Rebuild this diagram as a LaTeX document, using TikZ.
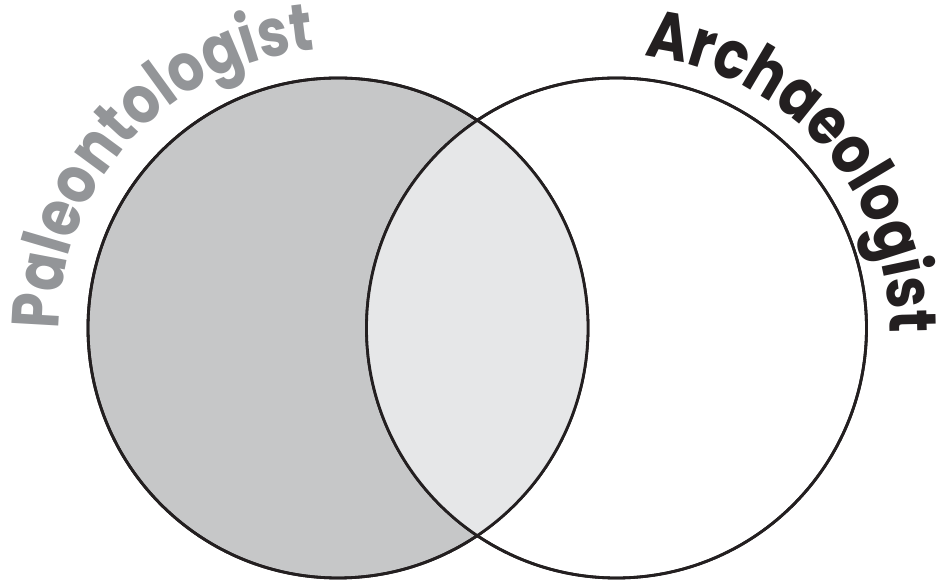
\documentclass[tikz,border=0pt]{standalone}
\usepackage{fontspec}
\usetikzlibrary{decorations.text}
\newfontfamily\vennfont{Poppins}[FakeStretch=0.84]
\definecolor{paleogray}{HTML}{939598}
\definecolor{paleofill}{HTML}{C6C7C8}
\definecolor{bothfill}{HTML}{E6E7E8}
\definecolor{inkblack}{HTML}{231F20}

\begin{document}
\begin{tikzpicture}[
    set/.style={circle, draw=inkblack, line width=0.8pt, minimum size=5cm, inner sep=0pt},
    title/.style={decorate, decoration={text along path, text align=center}},
]
\useasboundingbox (0,0) rectangle (9.37,5.80);

% the two sets
\node[set, fill=paleofill] (paleo) at (3.38,2.52) {};
\node[set] (archae) at (6.165,2.52) {};

% overlap
\begin{scope}
    \clip (paleo.center) circle[radius=2.5cm];
    \fill[bothfill] (archae.center) circle[radius=2.5cm];
\end{scope}
\draw[inkblack, line width=0.8pt] (paleo.center) circle[radius=2.5cm];
\draw[inkblack, line width=0.8pt] (archae.center) circle[radius=2.5cm];

% titles along the rims
\path[title, decoration={text={|\vennfont\bfseries\fontsize{19}{19}\selectfont\color{paleogray}|Paleontologist}}]
    (paleo.center) ++(195:2.79) arc[start angle=195, end angle=80, radius=2.79];
\path[title, decoration={text={|\vennfont\bfseries\fontsize{19}{19}\selectfont\color{inkblack}|Archaeologist}}]
    (archae.center) ++(98:2.73) arc[start angle=98, end angle=-15, radius=2.73];

\end{tikzpicture}
\end{document}
